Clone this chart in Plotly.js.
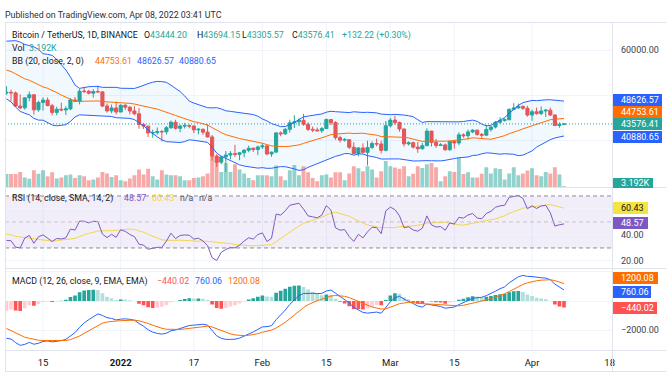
<!DOCTYPE html>
<html>
<head>
<meta charset="utf-8">
<script src="https://cdn.plot.ly/plotly-3.0.1.min.js"></script>
<style>html,body{margin:0;padding:0;background:#fff;}#chart{width:666px;height:375px;}</style>
</head>
<body>
<div id="chart"></div>
<script>
// ---------------- DATA (BINANCE BTCUSDT, 1D) ----------------
// closes before the visible window (Oct 1 - Dec 6 2021), used only to warm up the indicators
const warmupClose = [
  48116, 47711, 48199, 49112, 51514, 55361, 53805, 53967, 54968, 54771, 57485, 56005, 57367, 57347, 61672, 60875, 61528, 62009, 64280,
  65992, 62210, 60692, 61393, 60930, 63039, 60363, 58482, 60622, 62227, 61888, 61318,
  61004, 63227, 62970, 61453, 61125, 61528, 63327, 67566, 66971, 64995, 64950, 64155, 64469, 65466, 63557,
  60161, 60368, 56942, 58119, 59697, 58730, 56289, 57570, 57177, 58961, 53727, 54722, 57275, 57806, 56951,
  57229, 56508, 53601, 49152, 49397, 50441
];
const firstDay = '2021-12-07';   // first visible daily candle
const open = [
  50441, 50588, 50471, 47545, 47140, 49389, 50053, 46702, 48343, 48864, 47632, 46131, 46834, 46681, 46914, 48889, 48588, 50838, 50820, 50400, 50775, 50701, 47543, 46464, 47120,
  46216, 47722, 47286, 46446, 45833, 43451, 43082, 41566, 41679, 41864, 41822, 42736, 43949, 42592, 43099, 43177, 43114, 42250, 42375, 41744, 40680, 36445, 35071, 36244, 36660, 36958, 36809, 37160, 37716, 38166, 37881,
  38466, 38690, 36896, 37311, 41574, 41382, 42380, 43839, 44043, 44372, 43495, 42373, 42217, 42053, 42535, 44544, 43873, 40515, 39974, 40079, 38386, 37008, 38230, 37250, 38327, 39219, 39116, 37699,
  43160, 44421, 43892, 42454, 39137, 39400, 38419, 38062, 38737, 41982, 39437, 38794, 38904, 37849, 39666, 39338, 41143, 40951, 41801, 42190, 41247, 41077, 42358, 42892, 43960, 44349, 44500, 46820, 47128, 47465, 47063,
  45538, 46281, 45868, 46454, 46622, 45555, 43207, 43444.20
];
const high = [
  51936, 51200, 50797, 50125, 49485, 50777, 50189, 48700, 49500, 49436, 47995, 47392, 48300, 47537, 49328, 49576, 51375, 51810, 51156, 51280, 52088, 50704, 48139, 47879, 48548,
  47954, 47990, 47570, 47505, 47070, 43816, 43146, 42300, 42786, 42248, 43100, 44322, 44500, 43448, 43800, 43476, 43179, 42675, 42564, 43505, 41100, 36835, 36499, 37550, 37545, 38919, 37234, 38000, 38720, 38359, 38744,
  39265, 38855, 37387, 41772, 41913, 42656, 44500, 45492, 44799, 45821, 43920, 43000, 42760, 42876, 44751, 44549, 44164, 40959, 40444, 40125, 39494, 38429, 39249, 39843, 39683, 40300, 39855, 44225,
  44949, 45400, 44101, 42527, 39694, 39680, 39547, 39362, 42594, 42039, 40236, 39308, 39209, 39742, 39887, 41718, 41478, 42325, 42400, 42301, 41544, 43361, 43000, 44220, 45094, 44820, 46999, 48189, 48096, 47700, 47600,
  46720, 47213, 47444, 46891, 47200, 45690, 43900, 43694.15
];
const low = [
  50039, 48600, 47320, 46852, 46751, 48638, 45672, 46290, 46547, 47511, 45456, 45500, 46406, 45558, 46630, 48421, 47920, 50383, 50142, 49412, 50449, 47313, 46096, 45914, 45678,
  46208, 46654, 45696, 45502, 42500, 42430, 40672, 40501, 41200, 39650, 41268, 42450, 42311, 41725, 42555, 42581, 41540, 41250, 41138, 40553, 35440, 34008, 34601, 32917, 35701, 36234, 35507, 36155, 37268, 37351, 36632,
  38000, 36586, 36250, 37052, 40843, 41116, 41645, 42666, 43117, 43174, 42000, 41748, 41870, 41570, 42428, 43307, 40073, 39450, 39639, 38000, 36800, 36350, 37036, 34322, 38014, 38600, 37000, 37450,
  42809, 43334, 41832, 38550, 38773, 38088, 37155, 37867, 38656, 38539, 38223, 38772, 37578, 37578, 38098, 38828, 40500, 40135, 41516, 40911, 40467, 40875, 41845, 42560, 43579, 44072, 44422, 46663, 46950, 46665, 45200,
  44255, 45620, 45530, 45118, 45353, 43121, 42727, 43305.57
];
const close = [
  50588, 50471, 47545, 47140, 49389, 50053, 46702, 48343, 48864, 47632, 46131, 46834, 46681, 46914, 48889, 48588, 50838, 50820, 50400, 50775, 50701, 47543, 46464, 47120, 46216,
  47722, 47286, 46446, 45833, 43451, 43082, 41566, 41679, 41864, 41822, 42736, 43949, 42592, 43099, 43177, 43114, 42250, 42375, 41744, 40680, 36445, 35071, 36244, 36660, 36958, 36809, 37160, 37716, 38166, 37881, 38466,
  38690, 36896, 37311, 41574, 41382, 42380, 43839, 44043, 44372, 43495, 42373, 42217, 42053, 42535, 44544, 43873, 40515, 39974, 40079, 38386, 37008, 38230, 37250, 38327, 39219, 39116, 37699, 43160,
  44421, 43892, 42454, 39137, 39400, 38419, 38062, 38737, 41982, 39437, 38794, 38904, 37849, 39666, 39338, 41143, 40951, 41801, 42190, 41247, 41077, 42358, 42892, 43960, 44349, 44500, 46820, 47128, 47465, 47063, 45538,
  46281, 45868, 46454, 46622, 45555, 43207, 43444.19, 43576.41
];
// volume in thousands of BTC
const volumeK = [
  37, 37, 37, 43, 28, 24, 48, 38, 48, 31, 42, 25, 28, 34, 36, 26, 34, 31, 20, 22, 28, 43, 39, 29, 34,
  20, 17, 25, 34, 50, 36, 52, 31, 22, 48, 36, 34, 34, 31, 20, 20, 26, 28, 31, 39, 87, 73, 43, 68, 43, 64, 50, 39, 26, 20, 34,
  34, 34, 31, 61, 31, 20, 48, 62, 34, 59, 42, 26, 17, 34, 36, 28, 42, 42, 20, 39, 59, 53, 45, 59, 50, 28, 45, 73,
  59, 55, 52, 59, 31, 38, 59, 54, 64, 68, 56, 17, 31, 45, 43, 82, 37, 42, 28, 28, 38, 56, 39, 53, 51, 22, 39, 56, 34, 39, 47,
  53, 34, 31, 43, 39, 56, 36, 3.192
];
const tickDates  = ['2021-12-15', '2022-01-01', '2022-01-17', '2022-02-01', '2022-02-15', '2022-03-01', '2022-03-15', '2022-04-01', '2022-04-18'];
const tickLabels = ['15', '<b>2022</b>', '17', 'Feb', '15', 'Mar', '15', 'Apr', '18'];
// indicator read-outs shown in the legends / price scale
const bbLabels   = ['44753.61', '48626.57', '40880.65'];   // basis, upper, lower
const rsiLabels  = ['48.57', '60.43'];                     // rsi, rsi-ma
const macdLabels = ['\u2212440.02', '760.06', '1200.08'];  // histogram, macd, signal

// ---------------- INDICATORS ----------------
const allClose = warmupClose.concat(close);
const OFF = warmupClose.length;
const N = allClose.length;
const basisA = [], upperA = [], lowerA = [];
for (let i = 0; i < N; i++) {
  if (i < 19) { basisA.push(null); upperA.push(null); lowerA.push(null); continue; }
  const w = allClose.slice(i - 19, i + 1);
  const m = w.reduce((a, b) => a + b, 0) / 20;
  const sd = Math.sqrt(w.reduce((a, b) => a + (b - m) * (b - m), 0) / 20);
  basisA.push(m); upperA.push(m + 2 * sd); lowerA.push(m - 2 * sd);
}
const rsiA = new Array(N).fill(null);
let su = 0, sdn = 0, au = 0, ad = 0;
for (let i = 1; i < N; i++) {
  const ch = allClose[i] - allClose[i - 1];
  const u = Math.max(ch, 0), d = Math.max(-ch, 0);
  if (i <= 14) { su += u; sdn += d; if (i === 14) { au = su / 14; ad = sdn / 14; } else continue; }
  else { au = (au * 13 + u) / 14; ad = (ad * 13 + d) / 14; }
  rsiA[i] = ad === 0 ? 100 : 100 - 100 / (1 + au / ad);
}
const rsiMaA = rsiA.map((v, i) => {
  if (i < 27) return null;
  const w = rsiA.slice(i - 13, i + 1);
  return w.reduce((a, b) => a + b, 0) / 14;
});
function ema(arr, n) {
  const a = 2 / (n + 1); let e = null;
  return arr.map(v => { if (v == null) return null; e = (e == null) ? v : a * v + (1 - a) * e; return e; });
}
const e12 = ema(allClose, 12), e26 = ema(allClose, 26);
const macdA = allClose.map((_, i) => e12[i] - e26[i]);
const sigA = ema(macdA, 9);
const histA = macdA.map((v, i) => v - sigA[i]);
const histCol = histA.map((h, i) => {
  const p = i > 0 ? histA[i - 1] : h;
  if (h >= 0) return p < h ? '#26a69a' : '#b2dfdb';
  return p < h ? '#ffcdd2' : '#ff5252';
});
const vis = a => a.slice(OFF);

// ---------------- DATES ----------------
const t0 = Date.parse(firstDay + 'T00:00:00Z');
const dates = close.map((_, i) => new Date(t0 + i * 86400000).toISOString().slice(0, 10));
const xStart = '2021-12-06 16:19', xEnd = '2022-04-18 12:00';

// ---------------- GEOMETRY HELPERS ----------------
const W = 666, H = 375, ML = 5, MR = 54, MT = 23, MB = 25;
const PW = W - ML - MR, PH = H - MT - MB;
const PX = px => (px - ML) / PW;
const PY = py => (H - MB - py) / PH;
const FONT = 'Roboto, "Liberation Sans", Arial, sans-serif';
const FS = 8.8;
const DARK = '#131722', TEAL = '#26a69a', RED = '#ef5350', BLUE = '#2962ff', ORANGE = '#ff6d00', PURPLE = '#7e57c2', YELLOW = '#f2d64b';
const DAY = 86400000;
const n = close.length - 1;

// ---------------- TRACES ----------------
const traces = [
  { type: 'bar', x: dates, y: volumeK, xaxis: 'x', yaxis: 'y', width: 0.85 * DAY,
    marker: { color: close.map((c, i) => c >= open[i] ? 'rgba(38,166,154,0.5)' : 'rgba(239,83,80,0.5)'), line: { width: 0 } }, hoverinfo: 'skip' },
  { type: 'scatter', mode: 'lines', x: dates, y: vis(lowerA), xaxis: 'x', yaxis: 'y2', line: { color: BLUE, width: 1 }, hoverinfo: 'skip' },
  { type: 'scatter', mode: 'lines', x: dates, y: vis(upperA), xaxis: 'x', yaxis: 'y2', line: { color: BLUE, width: 1 },
    fill: 'tonexty', fillcolor: 'rgba(33,150,243,0.06)', hoverinfo: 'skip' },
  { type: 'scatter', mode: 'lines', x: dates, y: vis(basisA), xaxis: 'x', yaxis: 'y2', line: { color: ORANGE, width: 1 }, hoverinfo: 'skip' },
  { type: 'candlestick', x: dates, open: open, high: high, low: low, close: close, xaxis: 'x', yaxis: 'y2', whiskerwidth: 0,
    increasing: { line: { color: TEAL, width: 1 }, fillcolor: TEAL },
    decreasing: { line: { color: RED, width: 1 }, fillcolor: RED }, hoverinfo: 'skip' },
  { type: 'scatter', mode: 'lines', x: dates, y: vis(rsiMaA), xaxis: 'x', yaxis: 'y3', line: { color: YELLOW, width: 1 }, hoverinfo: 'skip' },
  { type: 'scatter', mode: 'lines', x: dates, y: vis(rsiA), xaxis: 'x', yaxis: 'y3', line: { color: PURPLE, width: 1 }, hoverinfo: 'skip' },
  { type: 'bar', x: dates, y: vis(histA), xaxis: 'x', yaxis: 'y4', width: 0.8 * DAY,
    marker: { color: vis(histCol), line: { width: 0 } }, hoverinfo: 'skip' },
  { type: 'scatter', mode: 'lines', x: dates, y: vis(macdA), xaxis: 'x', yaxis: 'y4', line: { color: BLUE, width: 1 }, hoverinfo: 'skip' },
  { type: 'scatter', mode: 'lines', x: dates, y: vis(sigA), xaxis: 'x', yaxis: 'y4', line: { color: ORANGE, width: 1 }, hoverinfo: 'skip' }
];

// ---------------- SHAPES ----------------
const FRAME = '#e0e3eb', GRID = '#f0f3fa';
const shapes = [];
tickDates.slice(0, -1).forEach(d => shapes.push({ type: 'line', xref: 'x', yref: 'paper', x0: d, x1: d, y0: 0, y1: 1, line: { color: GRID, width: 1 }, layer: 'below' }));
shapes.push({ type: 'rect', xref: 'x', yref: 'y3', x0: xStart, x1: xEnd, y0: 30, y1: 70, fillcolor: 'rgba(126,87,194,0.1)', line: { width: 0 }, layer: 'below' });
[[70, '#8a8d96'], [50, '#c3c5cb'], [30, '#8a8d96']].forEach(([v, c]) =>
  shapes.push({ type: 'line', xref: 'x', yref: 'y3', x0: xStart, x1: xEnd, y0: v, y1: v, line: { color: c, width: 1, dash: '4px,3px' }, layer: 'above' }));
shapes.push({ type: 'line', xref: 'x', yref: 'y2', x0: xStart, x1: xEnd, y0: close[n], y1: close[n], line: { color: TEAL, width: 1, dash: '1px,2px' }, layer: 'above' });
function hline(py, x0, x1) { shapes.push({ type: 'line', xref: 'paper', yref: 'paper', x0: PX(x0), x1: PX(x1), y0: PY(py), y1: PY(py), line: { color: FRAME, width: 1 }, layer: 'above' }); }
function vline(px, y0, y1) { shapes.push({ type: 'line', xref: 'paper', yref: 'paper', x0: PX(px), x1: PX(px), y0: PY(y0), y1: PY(y1), line: { color: FRAME, width: 1 }, layer: 'above' }); }
hline(22.5, 5, 666); hline(187.5, 5, 666); hline(268.5, 5, 666); hline(350.5, 5, 666); hline(371.5, 5, 666);
vline(5.5, 22.5, 371.5); vline(612.5, 22.5, 371.5);

// ---------------- ANNOTATIONS ----------------
const ann = [];
function T(px, py, text, color, size) {
  ann.push({ xref: 'paper', yref: 'paper', x: PX(px), y: PY(py), xanchor: 'left', yanchor: 'middle', text: text, showarrow: false,
    borderpad: 0, borderwidth: 0, font: { family: FONT, size: size || FS, color: color || DARK } });
}
function BOX(py, text, bg, fg, w, h) {
  ann.push({ xref: 'paper', yref: 'paper', x: PX(612.5), y: PY(py), xanchor: 'left', yanchor: 'middle', text: '\u00a0', showarrow: false,
    bgcolor: bg, width: w, height: h || 12, borderpad: 0, borderwidth: 0, font: { family: FONT, size: 9, color: fg } });
  T(620.5, py, text, fg, 9);
}
const span = (c, t) => '<span style="color:' + c + '">' + t + '</span>';
const f2 = v => v.toFixed(2);
T(5, 15, 'Published on TradingView.com, Apr 08, 2022 03:41 UTC', '#2a2e39');
T(11.5, 35, 'Bitcoin / TetherUS, 1D, BINANCE');
T(144, 35, 'O' + span(TEAL, f2(open[n])));
T(197, 35, 'H' + span(TEAL, f2(high[n])));
T(241.5, 35, 'L' + span(TEAL, f2(low[n])));
T(292, 35, 'C' + span(TEAL, f2(close[n])));
const chg = close[n] - close[n - 1];
T(342, 35, '+' + f2(chg) + ' (+' + f2(chg / close[n - 1] * 100) + '%)', TEAL);
T(11.5, 48.5, 'Vol');
T(29, 48.5, volumeK[n].toFixed(3) + 'K', TEAL);
T(11.5, 61, 'BB (20, close, 2, 0)');
T(95, 61, bbLabels[0], ORANGE); T(137.3, 61, bbLabels[1], BLUE); T(179, 61, bbLabels[2], BLUE);
T(11.5, 198.3, 'RSI (14, close, SMA, 14, 2)');
T(124, 198.3, rsiLabels[0], PURPLE); T(151.7, 198.3, rsiLabels[1], YELLOW);
T(180, 198.3, 'n/a', '#50535e'); T(199.3, 198.3, 'n/a', '#50535e');
T(11.5, 281, 'MACD (12, 26, close, 9, EMA, EMA)');
T(157.3, 281, macdLabels[0], '#ff5252'); T(195, 281, macdLabels[1], BLUE); T(228.3, 281, macdLabels[2], ORANGE);

const AX = '#3b3f4a';
T(620.5, 50, '60000.00', AX, 9);
BOX(100, bbLabels[1], BLUE, '#ffffff', 49);
BOX(111.8, bbLabels[0], ORANGE, '#ffffff', 49);
BOX(123.8, f2(close[n]), TEAL, '#ffffff', 49);
BOX(137.2, bbLabels[2], BLUE, '#ffffff', 49);
BOX(182.5, volumeK[n].toFixed(3) + 'K', TEAL, '#ffffff', 40, 10);
BOX(208.3, rsiLabels[1], '#f5e33f', DARK, 35);
BOX(222.7, rsiLabels[0], PURPLE, '#ffffff', 35);
T(620.5, 235, '40.00', AX, 9);
T(620.5, 261, '20.00', AX, 9);
T(620.5, 329.5, '\u22122000.00', AX, 9);
BOX(278.3, macdLabels[2], ORANGE, '#ffffff', 45);
BOX(291.7, macdLabels[1], BLUE, '#ffffff', 38);
BOX(308.3, macdLabels[0], '#ff5252', '#ffffff', 44);

// ---------------- LAYOUT ----------------
const layout = {
  width: W, height: H, margin: { l: ML, r: MR, t: MT, b: MB, pad: 0 },
  paper_bgcolor: '#ffffff', plot_bgcolor: '#ffffff', showlegend: false, hovermode: false, barmode: 'overlay',
  boxgap: 0.2, boxgroupgap: 0.15,
  xaxis: { type: 'date', range: [xStart, xEnd], anchor: 'y4', showgrid: false, zeroline: false, showline: false,
    tickmode: 'array', tickvals: tickDates, ticktext: tickLabels, ticks: '', ticklen: 0, ticklabelstandoff: 5,
    tickfont: { family: FONT, size: 9.5, color: DARK }, rangeslider: { visible: false }, fixedrange: true },
  yaxis: { domain: [PY(187.5), 1], range: [0, 455], visible: false, anchor: 'x', fixedrange: true },
  yaxis2: { overlaying: 'y', anchor: 'x', side: 'right', range: [29444, 66000], tickmode: 'array', tickvals: [40000, 50000, 60000],
    showticklabels: false, ticks: '', showgrid: true, gridcolor: GRID, zeroline: false, showline: false, fixedrange: true },
  yaxis3: { domain: [PY(268.5), PY(187.5)], anchor: 'x', range: [14.2, 76.5], tickmode: 'array', tickvals: [20, 40, 60],
    showticklabels: false, ticks: '', showgrid: true, gridcolor: GRID, zeroline: false, showline: false, fixedrange: true },
  yaxis4: { domain: [0, PY(268.5)], anchor: 'x', range: [-3379, 2241], tickmode: 'array', tickvals: [-2000, 0, 2000],
    showticklabels: false, ticks: '', showgrid: true, gridcolor: GRID, zeroline: false, showline: false, fixedrange: true },
  shapes: shapes,
  annotations: ann
};

Plotly.newPlot('chart', traces, layout, { staticPlot: true, displayModeBar: false });
</script>
</body>
</html>
